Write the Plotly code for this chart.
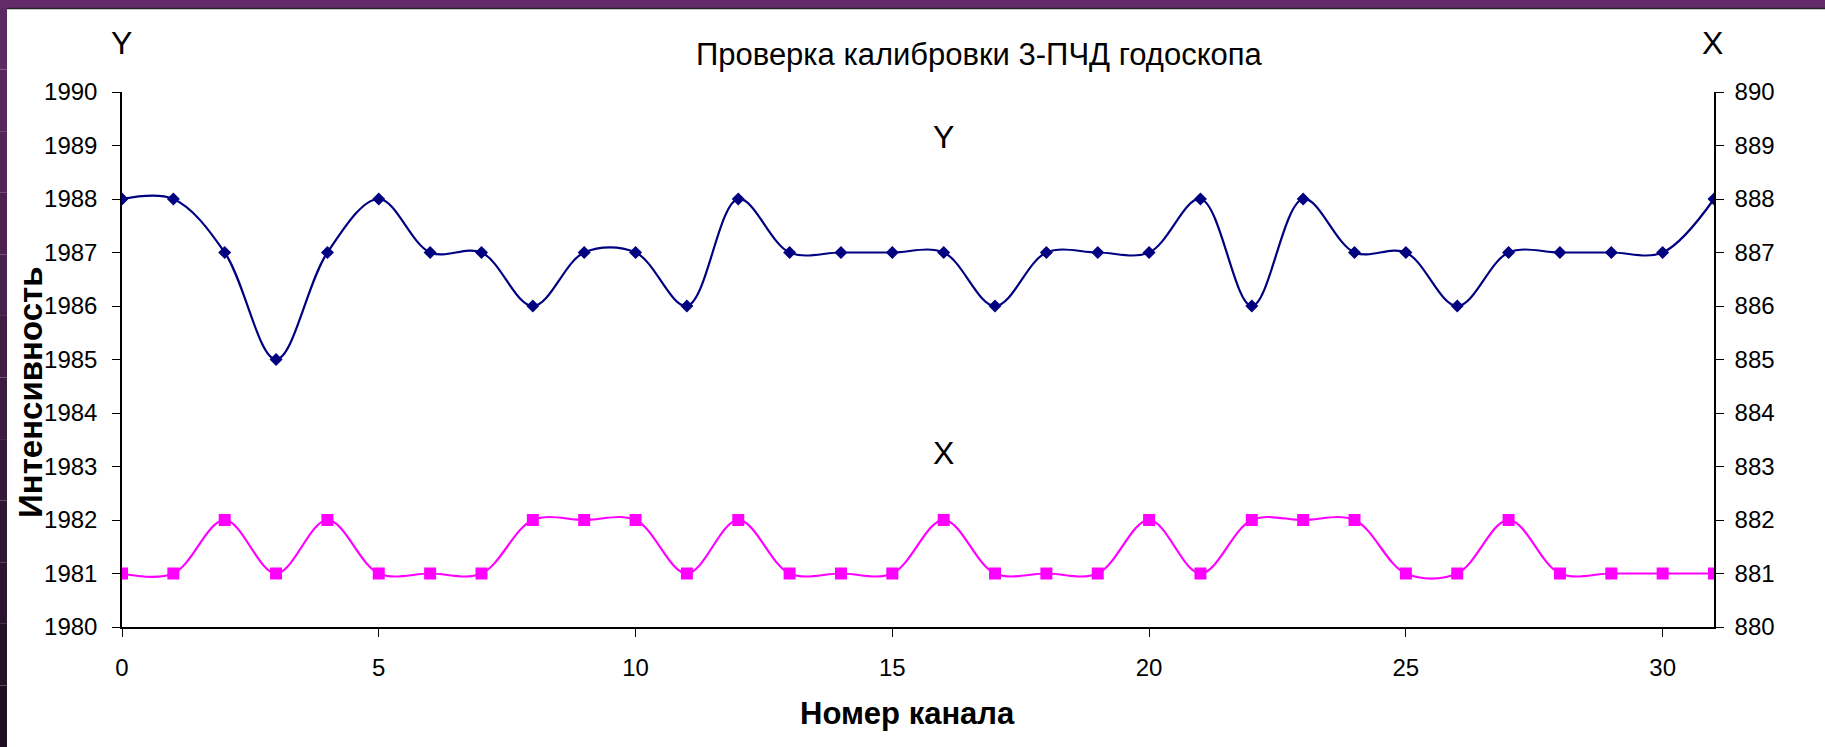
import plotly.graph_objects as go

_FONT = "Arial, Liberation Sans, sans-serif"

channels = list(range(32))
y_counts = [1988, 1988, 1987, 1985, 1987, 1988, 1987, 1987, 1986, 1987, 1987, 1986,
            1988, 1987, 1987, 1987, 1987, 1986, 1987, 1987, 1987, 1988, 1986, 1988,
            1987, 1987, 1986, 1987, 1987, 1987, 1987, 1988]
x_counts = [881, 881, 882, 881, 882, 881, 881, 881, 882, 882, 882, 881,
            882, 881, 881, 881, 882, 881, 881, 881, 882, 881, 882, 882,
            882, 881, 881, 882, 881, 881, 881, 881]

W, H = 1825, 747
L, R, T, B = 122, 111, 92, 120
pw, ph = W - L - R, H - T - B


def px_x(x):
    return (x - L) / pw


def px_y(y):
    return 1 - (y - T) / ph


def label(text, x, y, size, angle=0):
    # fixed-pixel text, centred on (x, y)
    fig.add_annotation(text=text, x=px_x(x), y=px_y(y), xref="paper", yref="paper",
                       xanchor="center", yanchor="middle", textangle=angle,
                       showarrow=False, font=dict(size=size, color="black"))


fig = go.Figure()
fig.add_trace(go.Scatter(
    x=channels, y=y_counts, name="Y", mode="lines+markers",
    line=dict(color="#000080", width=2.2, shape="spline", smoothing=1.0),
    marker=dict(symbol="diamond", size=10, color="#000080"),
))
fig.add_trace(go.Scatter(
    x=channels, y=x_counts, name="X", mode="lines+markers", yaxis="y2",
    line=dict(color="#FF00FF", width=2.2, shape="spline", smoothing=1.0),
    marker=dict(symbol="square", size=12, color="#FF00FF"),
))

axis_common = dict(showgrid=False, zeroline=False, showline=True, linecolor="black",
                   linewidth=1.5, ticks="outside", ticklen=8, tickcolor="black",
                   tickfont=dict(size=24, color="black"), dtick=1)

fig.update_layout(
    width=W, height=H,
    font_family=_FONT,
    paper_bgcolor="white", plot_bgcolor="white",
    margin=dict(l=L, r=R, t=T, b=B),
    showlegend=False,
    xaxis=dict(range=[0, 31], tickvals=[0, 5, 10, 15, 20, 25, 30], showgrid=False,
               zeroline=False, showline=True, linecolor="black", linewidth=1.5,
               ticks="outside", ticklen=8, tickcolor="black", ticklabelstandoff=10,
               tickfont=dict(size=24, color="black")),
    yaxis=dict(range=[1980, 1990], ticklabelstandoff=10, **axis_common),
    yaxis2=dict(range=[880, 890], overlaying="y", side="right", ticklabelstandoff=6,
                **axis_common),
)

label("<b>Интенсивность</b>", 30, 393, 33, angle=-90)
label("<b>Номер канала</b>", 907, 713, 31)
label("Проверка калибровки 3-ПЧД годоскопа", 979, 54, 31)
label("Y", 121, 43, 32)
label("X", 1712, 43, 32)
fig.add_annotation(text="Y", x=16, y=1989.15, xref="x", yref="y", xanchor="center",
                   yanchor="middle", showarrow=False, font=dict(size=32, color="black"))
fig.add_annotation(text="X", x=16, y=883.25, xref="x", yref="y2", xanchor="center",
                   yanchor="middle", showarrow=False, font=dict(size=32, color="black"))

# slide frame: purple top band and dark gradient left band
fig.add_shape(type="rect", xref="paper", yref="paper", x0=px_x(0), x1=px_x(W),
              y0=px_y(0), y1=px_y(8), fillcolor="#652C6A", line_width=0, layer="above")
fig.add_shape(type="line", xref="paper", yref="paper", x0=px_x(7), x1=px_x(W),
              y0=px_y(8.5), y1=px_y(8.5), line=dict(color="#222", width=1.5), layer="above")
n = 12
top_c, bot_c = (0x5E, 0x2A, 0x63), (0x1E, 0x0E, 0x21)
for i in range(n):
    f = i / (n - 1)
    c = tuple(round(a + (b - a) * f) for a, b in zip(top_c, bot_c))
    fig.add_shape(type="rect", xref="paper", yref="paper", x0=px_x(0), x1=px_x(7),
                  y0=px_y(8 + (H - 8) * i / n), y1=px_y(8 + (H - 8) * (i + 1) / n),
                  fillcolor="rgb(%d,%d,%d)" % c, line_width=0, layer="above")

fig.write_html("out.html", config={"displayModeBar": False},
               post_script="document.body.style.margin='0';")
